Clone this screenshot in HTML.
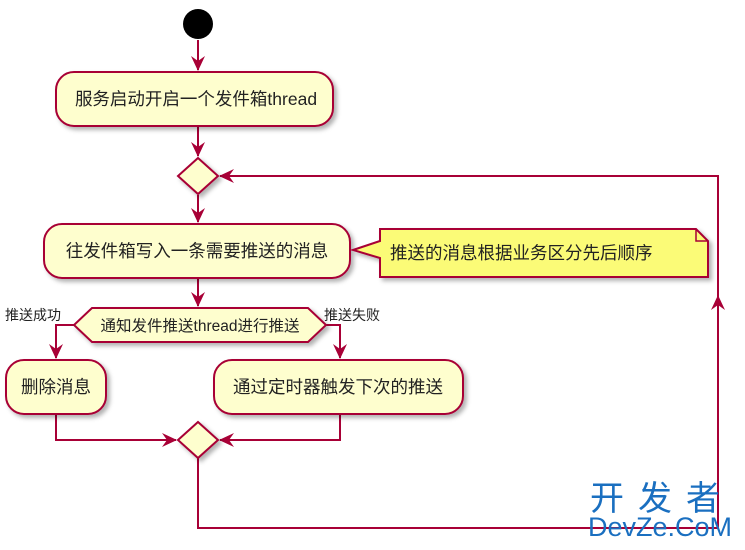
<!DOCTYPE html>
<html><head><meta charset="utf-8"><style>
body{margin:0;background:#fff;}
svg text{font-family:"Liberation Sans","Noto Sans CJK SC",sans-serif;fill:#222;}
</style></head><body>
<svg width="745" height="545" viewBox="0 0 745 545" xmlns="http://www.w3.org/2000/svg">
<defs>
<marker id="a" markerWidth="16" markerHeight="16" refX="14" refY="8" orient="auto" markerUnits="userSpaceOnUse">
<path d="M0,1 L15,8 L0,15 L5,8 Z" fill="#A80036"/></marker>
<filter id="s" x="-10%" y="-10%" width="130%" height="140%"><feDropShadow dx="3" dy="3" stdDeviation="2" flood-color="#000" flood-opacity="0.3"/></filter>
</defs>
<g stroke="#A80036" stroke-width="2" fill="none">
<line x1="198" y1="40" x2="198" y2="70" marker-end="url(#a)"/>
<line x1="198" y1="127" x2="198" y2="156" marker-end="url(#a)"/>
<line x1="198" y1="195" x2="198" y2="222" marker-end="url(#a)"/>
<line x1="198" y1="279" x2="198" y2="306" marker-end="url(#a)"/>
<polyline points="74,325 56,325 56,358" marker-end="url(#a)"/>
<polyline points="326,325 340,325 340,358" marker-end="url(#a)"/>
<polyline points="56,415 56,440 176,440" marker-end="url(#a)"/>
<polyline points="340,415 340,440 220,440" marker-end="url(#a)"/>
<polyline points="198,458 198,528 718,528 718,176 220,176" marker-end="url(#a)"/>
<line x1="718" y1="360" x2="718" y2="296" marker-end="url(#a)"/>
</g>
<circle cx="198" cy="24" r="15" fill="#000"/>
<g fill="#FEFECE" stroke="#A80036" stroke-width="2" filter="url(#s)">
<rect x="56" y="72" width="277" height="54" rx="18"/>
<polygon points="198,158 218,176 198,194 178,176"/>
<rect x="44" y="224" width="306" height="54" rx="18"/>
<polygon points="92,308 308,308 326,325 308,342 92,342 74,325"/>
<rect x="6" y="360" width="100" height="54" rx="18"/>
<rect x="214" y="360" width="249" height="54" rx="18"/>
<polygon points="198,422 218,440 198,458 178,440"/>
<path d="M380,229 L696,229 L708,241 L708,277 L380,277 L380,258 L353,250 L380,241 Z" fill="#FBFB77"/>
</g>
<path d="M696,229 L696,241 L708,241" fill="none" stroke="#A80036" stroke-width="1.5"/>
<g font-size="17.5">
<text x="196" y="105" text-anchor="middle">服务启动开启一个发件箱thread</text>
<text x="197" y="257" text-anchor="middle">往发件箱写入一条需要推送的消息</text>
<text x="390" y="259">推送的消息根据业务区分先后顺序</text>
<text x="56" y="393" text-anchor="middle">删除消息</text>
<text x="338" y="393" text-anchor="middle">通过定时器触发下次的推送</text>
</g>
<text x="200" y="331" font-size="15.5" text-anchor="middle">通知发件推送thread进行推送</text>
<text x="5" y="320" font-size="14">推送成功</text>
<text x="324" y="320" font-size="14">推送失败</text>
<text x="590" y="510" font-size="34" style="fill:#1a6fc0" letter-spacing="14">开发者</text>
<text x="588" y="536" font-size="27" style="fill:#1a6fc0">DevZe.CoM</text>
</svg>
</body></html>
